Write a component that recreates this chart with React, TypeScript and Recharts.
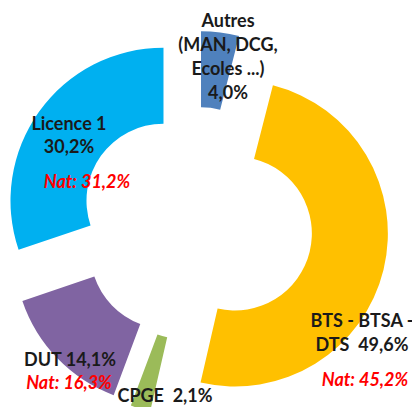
import React from "react";
import { PieChart, Pie, Cell, Sector } from "recharts";

const categories = ["Autres", "BTS - BTSA - DTS", "CPGE", "DUT", "Licence 1"];
const shares = [4.0, 49.6, 2.1, 14.1, 30.2];
const nationalShares: (number | null)[] = [null, 45.2, null, 16.3, 31.2];
const labelLines: string[][] = [
  ["Autres", "(MAN, DCG,", "Ecoles ...)", "4,0%"],
  ["BTS - BTSA -", "DTS  49,6%"],
  ["CPGE  2,1%"],
  ["DUT 14,1%"],
  ["Licence 1", "30,2%"],
];
const colors = ["#4F81BD", "#FFC000", "#9BBB59", "#8064A2", "#00B0F0"];

const data = categories.map((name, i) => ({ name, value: shares[i] }));

const EXPLODE = 40;
const RAD = Math.PI / 180;

// label layout relative to pie center
const labelLayout = [
  { dx: 32, dy: -197, lh: 24, ndx: 0, ndy: 0 },
  { dx: 166, dy: 103, lh: 24, ndx: 169, ndy: 162 },
  { dx: -31, dy: 178, lh: 24, ndx: 0, ndy: 0 },
  { dx: -126, dy: 142, lh: 24, ndx: -127, ndy: 165 },
  { dx: -127, dy: -94, lh: 23, ndx: -109, ndy: -36 },
];

const fmt = (v: number) => v.toFixed(1).replace(".", ",") + "%";

const ExplodedSector = (props: any) => {
  const { cx, cy, midAngle } = props;
  const ox = EXPLODE * Math.cos(-midAngle * RAD);
  const oy = EXPLODE * Math.sin(-midAngle * RAD);
  return <Sector {...props} cx={cx + ox} cy={cy + oy} />;
};

const FONT = "Lato, 'Open Sans', sans-serif";

const renderLabel = (props: any) => {
  const { cx, cy, index } = props;
  const lay = labelLayout[index];
  const lines = labelLines[index];
  const nat = nationalShares[index];
  return (
    <g key={"lbl" + index}>
      <text
        x={cx + lay.dx}
        y={cy + lay.dy}
        textAnchor="middle"
        fontFamily={FONT}
        fontWeight="bold"
        fontSize={18}
        fill="#1A1A1A"
      >
        {lines.map((l, k) => (
          <tspan key={k} x={cx + lay.dx} dy={k === 0 ? 0 : lay.lh} style={{ whiteSpace: "pre" }}>
            {l}
          </tspan>
        ))}
      </text>
      {nat !== null && (
        <text
          x={cx + lay.ndx}
          y={cy + lay.ndy}
          textAnchor="middle"
          fontFamily={FONT}
          fontWeight="bold"
          fontStyle="italic"
          fontSize={18}
          fill="#FF0000"
        >
          {"Nat: " + fmt(nat)}
        </text>
      )}
    </g>
  );
};

export default function App() {
  return (
    <div style={{ position: "absolute", left: 0, top: 0, width: 412, height: 407, background: "#fff" }}>
      <PieChart width={412} height={407} margin={{ top: 0, right: 0, bottom: 0, left: 0 }}>
        <Pie
          data={data}
          dataKey="value"
          nameKey="name"
          cx={196}
          cy={224}
          innerRadius={77}
          outerRadius={153}
          startAngle={90}
          endAngle={-270}
          stroke="none"
          isAnimationActive={false}
          shape={ExplodedSector}
          label={renderLabel}
          labelLine={false}
        >
          {data.map((d, i) => (
            <Cell key={d.name} fill={colors[i]} />
          ))}
        </Pie>
      </PieChart>
    </div>
  );
}
